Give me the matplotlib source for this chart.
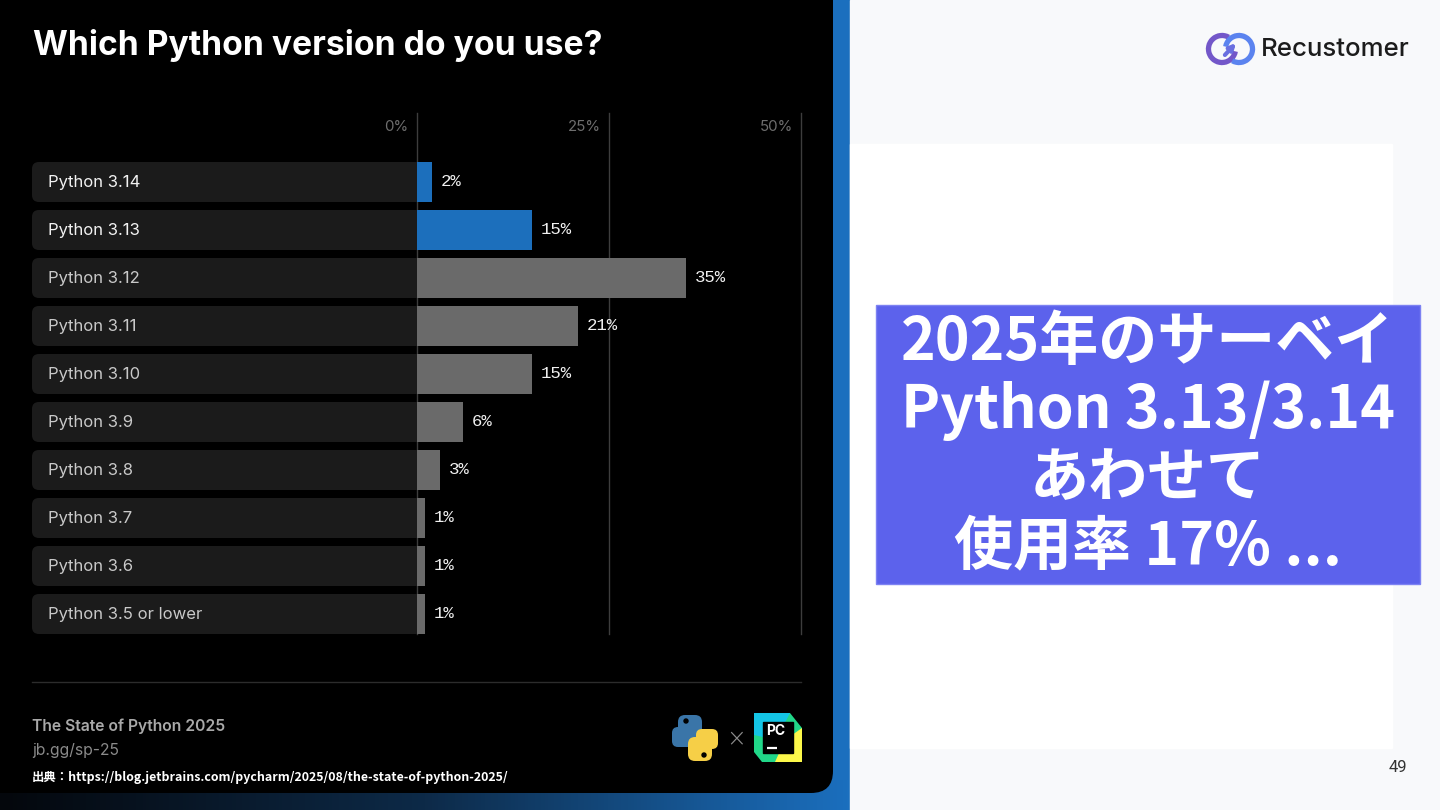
import numpy as np
import matplotlib
matplotlib.use("Agg")
import matplotlib.pyplot as plt
from matplotlib.patches import FancyBboxPatch, Rectangle, Circle, Polygon, Arc
from matplotlib.colors import LinearSegmentedColormap

# ---------------- data ----------------
versions = ["Python 3.14", "Python 3.13", "Python 3.12", "Python 3.11", "Python 3.10",
            "Python 3.9", "Python 3.8", "Python 3.7", "Python 3.6", "Python 3.5 or lower"]
shares = [2, 15, 35, 21, 15, 6, 3, 1, 1, 1]
highlighted = [True, True, False, False, False, False, False, False, False, False]
tick_values = [0, 25, 50]
tick_labels = ["0%", "25%", "50%"]
title = "Which Python version do you use?"
footer_title = "The State of Python 2025"
footer_link = "jb.gg/sp-25"
source = "出典：https://blog.jetbrains.com/pycharm/2025/08/the-state-of-python-2025/"
headline = ["2025年のサーベイ", "Python 3.13/3.14", "あわせて", "使用率 17% ..."]
brand = "Recustomer"
page_no = "49"

# ---------------- figure ----------------
W, H = 1440, 810
fig = plt.figure(figsize=(14.4, 8.1), dpi=100)
fig.patch.set_facecolor("#f8f9fb")

bg = fig.add_axes([0, 0, 1, 1])
bg.set_xlim(0, W)
bg.set_ylim(H, 0)
bg.axis("off")

BLUE = "#1b6fbe"
# blue stripe + bottom gradient band
bg.add_patch(Rectangle((820, 0), 30, H, color=BLUE, zorder=0))
grad = np.linspace(0, 1, 256).reshape(1, -1)
cm = LinearSegmentedColormap.from_list("band", ["#04070c", "#0d2a48", "#1b6fbe"])
bg.imshow(grad, cmap=cm, extent=(0, 850, H, 780), aspect="auto", zorder=0.5)
# black panel with rounded bottom-right corner
bg.add_patch(FancyBboxPatch((-40, -40), 873, 833, boxstyle="round,pad=0,rounding_size=22",
                            facecolor="#000000", edgecolor="none", zorder=1))
# right side
bg.add_patch(Rectangle((850, 0), W - 850, H, color="#f8f9fb", zorder=1))
bg.add_patch(Rectangle((850, 144), 542, 604, color="#ffffff", zorder=2))
bg.add_patch(Rectangle((876, 305), 544, 279, facecolor="#5c62ec", edgecolor="#7d82f2",
                       linewidth=1.0, zorder=3))

# headline text
for i, line in enumerate(headline):
    bg.text(1148, 343 + i * 68, line, ha="center", va="center", color="white",
            fontsize=42.5, fontweight="bold", family=["Noto Sans CJK JP", "DejaVu Sans"], zorder=4)

# title
bg.text(33, 46, title, ha="left", va="center", color="white", fontsize=24.2,
        fontweight="bold", family="Inter", zorder=4)

# footer
bg.plot([32, 801], [682, 682], color="#2c2c2c", linewidth=1.0, zorder=4)
bg.text(32, 726, footer_title, ha="left", va="center", color="#a9a9a9", fontsize=11.3,
        fontweight="semibold", family="Inter", zorder=4)
bg.text(32, 750, footer_link, ha="left", va="center", color="#8a8a8a", fontsize=11.3,
        family="Inter", zorder=4)
bg.text(32, 777, source, ha="left", va="center", color="white", fontsize=8.9,
        fontweight="bold", family=["Noto Sans CJK JP", "DejaVu Sans"], zorder=4)

# python logo (simplified)
bg.add_patch(FancyBboxPatch((678, 715), 24, 24, boxstyle="round,pad=0,rounding_size=7",
                            facecolor="#3a75a8", edgecolor="none", zorder=4))
bg.add_patch(FancyBboxPatch((672, 727), 22, 20, boxstyle="round,pad=0,rounding_size=6",
                            facecolor="#3a75a8", edgecolor="none", zorder=4))
bg.add_patch(FancyBboxPatch((688, 737), 24, 24, boxstyle="round,pad=0,rounding_size=7",
                            facecolor="#f6cf47", edgecolor="none", zorder=4))
bg.add_patch(FancyBboxPatch((696, 729), 22, 20, boxstyle="round,pad=0,rounding_size=6",
                            facecolor="#f6cf47", edgecolor="none", zorder=4))
bg.add_patch(Circle((686, 721), 2, color="#000000", zorder=5))
bg.add_patch(Circle((704, 755), 2, color="#000000", zorder=5))
bg.text(736, 738, "×", ha="center", va="center", color="#8c8c8c", fontsize=17,
        family="DejaVu Sans", fontweight="light", zorder=4)

# PyCharm logo (simplified)
bg.add_patch(Polygon([(754, 713), (790, 713), (802, 728), (802, 762), (762, 762), (754, 752)],
                     closed=True, facecolor="#21d789", edgecolor="none", zorder=4))
bg.add_patch(Polygon([(754, 713), (790, 713), (776, 740), (754, 735)], closed=True,
                     facecolor="#14c5e6", edgecolor="none", zorder=4))
bg.add_patch(Polygon([(785, 740), (802, 728), (802, 762), (775, 762)], closed=True,
                     facecolor="#fcf84a", edgecolor="none", zorder=4))
bg.add_patch(Rectangle((763, 722), 30, 31, color="#000000", zorder=5))
bg.text(766, 731, "PC", ha="left", va="center", color="white", fontsize=10,
        fontweight="bold", family="Inter", zorder=6)
bg.plot([767, 777], [748, 748], color="white", linewidth=1.6, zorder=6, solid_capstyle="butt")

# Recustomer logo
bg.add_patch(Arc((1222, 49), 27, 27, theta1=10, theta2=300, color="#7357c9", linewidth=3.8, zorder=4))
bg.add_patch(Arc((1239, 49), 27, 27, theta1=190, theta2=480, color="#5b83ef", linewidth=3.8, zorder=4))
bg.annotate("", xy=(1238, 41), xytext=(1223, 57),
            arrowprops=dict(arrowstyle="-|>", color="#6a6fe0", lw=3, mutation_scale=9), zorder=5)
bg.text(1261, 49, brand, ha="left", va="center", color="#1c1c1c", fontsize=18.6,
        fontweight="medium", family="Inter", zorder=4)
bg.text(1407, 767, page_no, ha="right", va="center", color="#333333", fontsize=12,
        family="Roboto", zorder=4)

# ---------------- chart ----------------
x0_px, x50_px, left_px = 417, 801, 32
top_px, bot_px, row0_px, pitch_px = 113, 634, 182, 48
px_per_pct = (x50_px - x0_px) / 50.0
ax = fig.add_axes([left_px / W, (H - bot_px) / H, (x50_px - left_px) / W, (bot_px - top_px) / H])
ax.set_facecolor("none")
xmin = -(x0_px - left_px) / px_per_pct
ax.set_xlim(xmin, 50)
ax.set_ylim((bot_px - row0_px) / pitch_px, (top_px - row0_px) / pitch_px)
ax.axis("off")

n = len(versions)
ypos = np.arange(n)
bar_h = 40 / 48

for v, lab in zip(tick_values, tick_labels):
    ax.axvline(v, color="#3d3d3d", linewidth=1.0, zorder=1, clip_on=False)
    ax.annotate(lab, xy=(v, (127 - row0_px) / pitch_px),
                xytext=(-6, 0), textcoords="offset points", ha="right", va="center",
                color="#6e6e6e", fontsize=10.8, family="Inter", annotation_clip=False)

for i in range(n):
    ax.add_patch(FancyBboxPatch((xmin, i - bar_h / 2), -xmin + 0.9, bar_h,
                                boxstyle="round,pad=0,rounding_size=0.9",
                                mutation_aspect=(6 / pitch_px) / (6 / px_per_pct),
                                facecolor="#1b1b1b", edgecolor="none", zorder=2))

colors = ["#1c6fbc" if h else "#6a6a6a" for h in highlighted]
ax.barh(ypos, shares, height=bar_h, color=colors, zorder=3, linewidth=0)

for i in range(n):
    ax.annotate(versions[i], xy=(xmin, i), xytext=(11.5, 0), textcoords="offset points",
                ha="left", va="center", color="#f2f2f2" if highlighted[i] else "#c9c9c9",
                fontsize=12, family="Inter", zorder=5)
    ax.annotate(f"{shares[i]}%", xy=(shares[i], i), xytext=(6.3, 0), textcoords="offset points",
                ha="left", va="center", color="#f0f0f0", fontsize=12.5,
                family="Liberation Mono", zorder=5)

fig.savefig("out.png", dpi=100, facecolor=fig.get_facecolor())
